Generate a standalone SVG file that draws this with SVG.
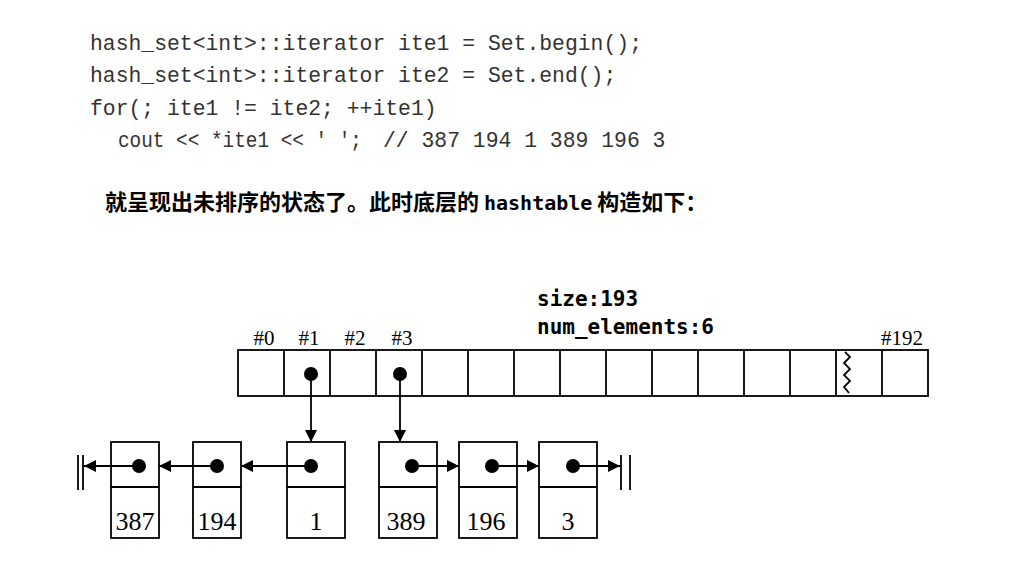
<svg xmlns="http://www.w3.org/2000/svg" width="1021" height="571" viewBox="0 0 1021 571">
<defs>
<style>
.code{font-family:"Liberation Mono",monospace;font-size:21.4px;fill:#333}
.lbl{font-family:"Liberation Serif",serif;font-size:21px;fill:#000}
.num{font-family:"Liberation Serif",serif;font-size:26px;fill:#000;text-anchor:middle}
.mono{font-family:"DejaVu Sans Mono",monospace;font-size:21px;font-weight:bold;fill:#000}
.box{fill:#fff;stroke:#000;stroke-width:1.8}
.ln{stroke:#000;stroke-width:1.8;fill:none}
</style>
<marker id="ah" viewBox="0 0 10 10" refX="10" refY="5" markerWidth="12" markerHeight="12" orient="auto" markerUnits="userSpaceOnUse"><path d="M0,0L10,5L0,10z" fill="#000"/></marker>
</defs>
<text class="code" x="90" y="50">hash_set&lt;int&gt;::iterator ite1 = Set.begin();</text>
<text class="code" x="90" y="82">hash_set&lt;int&gt;::iterator ite2 = Set.end();</text>
<text class="code" x="90" y="115">for(; ite1 != ite2; ++ite1)</text>
<text class="code" x="118" y="147" textLength="244" lengthAdjust="spacingAndGlyphs">cout &lt;&lt; *ite1 &lt;&lt; ' ';</text>
<text class="code" x="383" y="147">// 387 194 1 389 196 3</text>
<text x="105" y="210" style="font-family:'Noto Sans CJK SC',sans-serif;font-size:22px;font-weight:bold">就呈现出未排序的状态了。此时底层的 <tspan style="font-family:'DejaVu Sans Mono',monospace;font-size:20px">hashtable</tspan> 构造如下：</text>
<text class="mono" x="537" y="306">size:193</text>
<text class="mono" x="537" y="334">num_elements:6</text>
<g id="bucket">
<rect class="box" x="238" y="350" width="690" height="46"/>
<path class="ln" d="M284,350V396M330,350V396M376,350V396M422,350V396M468,350V396M514,350V396M560,350V396M606,350V396M652,350V396M698,350V396M744,350V396M790,350V396M836,350V396M882,350V396"/>
<path class="ln" d="M845,352l5,5l-6,6l6,6l-6,6l6,6l-6,6l5,6" />
<circle cx="311" cy="374" r="7"/><circle cx="400" cy="374" r="7"/>
<text class="lbl" x="264" y="345" text-anchor="middle">#0</text>
<text class="lbl" x="309" y="345" text-anchor="middle">#1</text>
<text class="lbl" x="355" y="345" text-anchor="middle">#2</text>
<text class="lbl" x="402" y="345" text-anchor="middle">#3</text>
<text class="lbl" x="902" y="345" text-anchor="middle">#192</text>
</g>
<g id="n387"><rect class="box" x="111" y="442" width="48" height="96"/><line class="ln" x1="111" y1="487" x2="159" y2="487"/><circle cx="139" cy="466" r="7"/><text class="num" x="135" y="530">387</text></g>
<g id="n194"><rect class="box" x="193" y="442" width="48" height="96"/><line class="ln" x1="193" y1="487" x2="241" y2="487"/><circle cx="217" cy="466" r="7"/><text class="num" x="217" y="530">194</text></g>
<g id="n1"><rect class="box" x="287" y="442" width="58" height="96"/><line class="ln" x1="287" y1="487" x2="345" y2="487"/><circle cx="311" cy="466" r="7"/><text class="num" x="316" y="530">1</text></g>
<g id="n389"><rect class="box" x="379" y="442" width="58" height="96"/><line class="ln" x1="379" y1="487" x2="437" y2="487"/><circle cx="412" cy="466" r="7"/><text class="num" x="406" y="530">389</text></g>
<g id="n196"><rect class="box" x="459" y="442" width="58" height="96"/><line class="ln" x1="459" y1="487" x2="517" y2="487"/><circle cx="492" cy="466" r="7"/><text class="num" x="486" y="530">196</text></g>
<g id="n3"><rect class="box" x="539" y="442" width="58" height="96"/><line class="ln" x1="539" y1="487" x2="597" y2="487"/><circle cx="573" cy="466" r="7"/><text class="num" x="568" y="530">3</text></g>
<g id="connectors">
<line class="ln" x1="311" y1="374" x2="311" y2="442" marker-end="url(#ah)"/>
<line class="ln" x1="400" y1="374" x2="400" y2="442" marker-end="url(#ah)"/>
<line class="ln" x1="311" y1="466" x2="241" y2="466" marker-end="url(#ah)"/>
<line class="ln" x1="217" y1="466" x2="159" y2="466" marker-end="url(#ah)"/>
<line class="ln" x1="139" y1="466" x2="84" y2="466" marker-end="url(#ah)"/>
<line class="ln" x1="412" y1="466" x2="459" y2="466" marker-end="url(#ah)"/>
<line class="ln" x1="492" y1="466" x2="539" y2="466" marker-end="url(#ah)"/>
<line class="ln" x1="573" y1="466" x2="620" y2="466" marker-end="url(#ah)"/>
<path class="ln" d="M78,455V490M83,455V490M621,455V490M630,455V490"/>
</g>
</svg>
